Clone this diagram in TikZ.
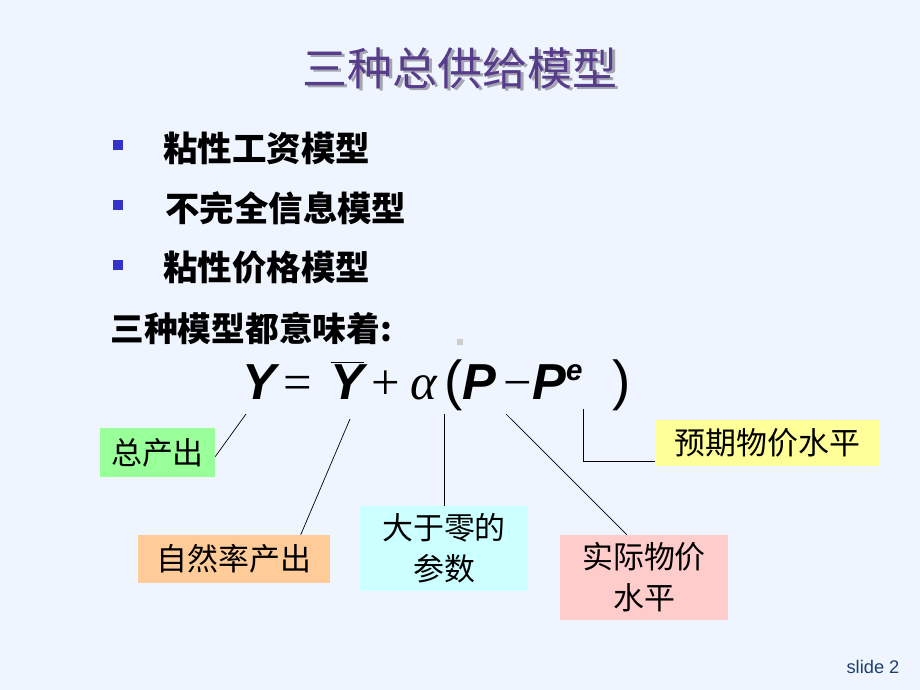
\documentclass[tikz,border=0pt]{standalone}
\usepackage{fontspec}
\usepackage{xcolor}
\setmainfont{Liberation Sans}
\newfontfamily\cjk{Noto Sans CJK SC}
\newfontfamily\eqsans{Liberation Sans}
\newfontfamily\eqserif{Liberation Serif}
\usetikzlibrary{calc,positioning}

\definecolor{bgblue}{RGB}{238,245,255}
\definecolor{titlepurple}{RGB}{88,60,140}
\definecolor{shadowgray}{RGB}{165,165,175}
\definecolor{bulletblue}{RGB}{51,51,204}
\definecolor{tagGreen}{RGB}{153,255,153}
\definecolor{tagOrange}{RGB}{255,204,153}
\definecolor{tagCyan}{RGB}{204,255,255}
\definecolor{tagPink}{RGB}{255,204,204}
\definecolor{tagYellow}{RGB}{255,255,153}
\definecolor{slideblue}{RGB}{31,63,111}

\tikzset{
	tag/.style={fill=#1, inner sep=0pt, align=center, font=\cjk\fontsize{22}{29}\selectfont},
	lead/.style={black, line width=0.5pt},
	bulletbox/.style={fill=bulletblue, minimum size=0.27cm, inner sep=0pt},
	item/.style={anchor=west, inner sep=0pt, font=\cjk\bfseries\fontsize{24.5}{30}\selectfont},
}

\newcommand{\eqbf}{\eqsans\bfseries\itshape\fontsize{36}{42}\selectfont}
\newcommand{\eqop}{\eqserif\fontsize{36}{42}\selectfont}
\newcommand{\eqpar}{\eqsans\fontsize{39}{44}\selectfont}

\begin{document}
\begin{tikzpicture}[x=0.025cm, y=-0.025cm]
			\useasboundingbox (0,0) rectangle (920,690);
			\fill[bgblue] (0,0) rectangle (920,690);

			\node[shadowgray, font=\cjk\fontsize{32}{38}\selectfont] (titleshadow) at(462.5,70.5){三种总供给模型};
			\node[titlepurple, font=\cjk\fontsize{32}{38}\selectfont] (title) at(460,68){三种总供给模型};

			\node[bulletbox] (b1) at(118,145){};
			\node[bulletbox] (b2) at(118,205){};
			\node[bulletbox] (b3) at(118,265){};
				\node[item] (m1) at(163,148){粘性工资模型};
				\node[item] (m2) at(165,208){不完全信息模型};
				\node[item] (m3) at(163,268){粘性价格模型};

			\node[item, font=\cjk\bfseries\fontsize{24}{29}\selectfont] (imply) at(110,328){三种模型都意味着:};
			\fill[black!20] (457,339) rectangle (463,345);

			\node[anchor=base west, inner sep=0pt] (eq) at(242,399){%
				{\eqbf Y}\hspace{5.5pt}%
				{\eqop =}\hspace{13pt}%
				$\overline{\hbox{\eqbf Y}}$\hspace{5pt}%
				{\eqop +}\hspace{7.5pt}%
				{\eqop\itshape α}\hspace{5pt}%
				{\eqpar (}%
				{\eqbf P}\hspace{5pt}%
				{\eqop −}\hspace{0.5pt}%
				{\eqbf P}\raisebox{13.5pt}{\eqsans\bfseries\itshape\fontsize{21}{22}\selectfont e}\hspace{21.5pt}%
				{\eqpar )}};

			\node[tag=tagGreen, minimum width=2.875cm, minimum height=1.225cm] (tot) at(157.5,452.5){总产出};
			\node[tag=tagOrange, minimum width=4.8cm, minimum height=1.2cm] (nat) at(234,559){自然率产出};
			\node[tag=tagCyan, minimum width=4.2cm, minimum height=2.125cm] (par) at(444,548.5){大于零的\\参数};
			\node[tag=tagPink, minimum width=4.2cm, minimum height=2.125cm] (real) at(644,577.5){实际物价\\水平};
			\node[tag=tagYellow, minimum width=5.625cm, minimum height=1.15cm] (expc) at(767.5,443){预期物价水平};

			\coordinate (c1) at(246,414);
			\coordinate (c2) at(350,419);
			\coordinate (c3) at(444,414);
			\coordinate (c4) at(506,414);
			\coordinate (c5) at(583,409);

			\draw[lead] (c1) to (tot.-4);
			\draw[lead] (c2) to (nat.20);
			\draw[lead] (c3) to (par.north);
			\draw[lead] (c4) to (real.112);
			\draw[lead] (c5) |- (expc.189);

			\node[slideblue, font=\eqsans\fontsize{13}{15}\selectfont] (slide) at(873,667){slide 2};
\end{tikzpicture}
\end{document}
